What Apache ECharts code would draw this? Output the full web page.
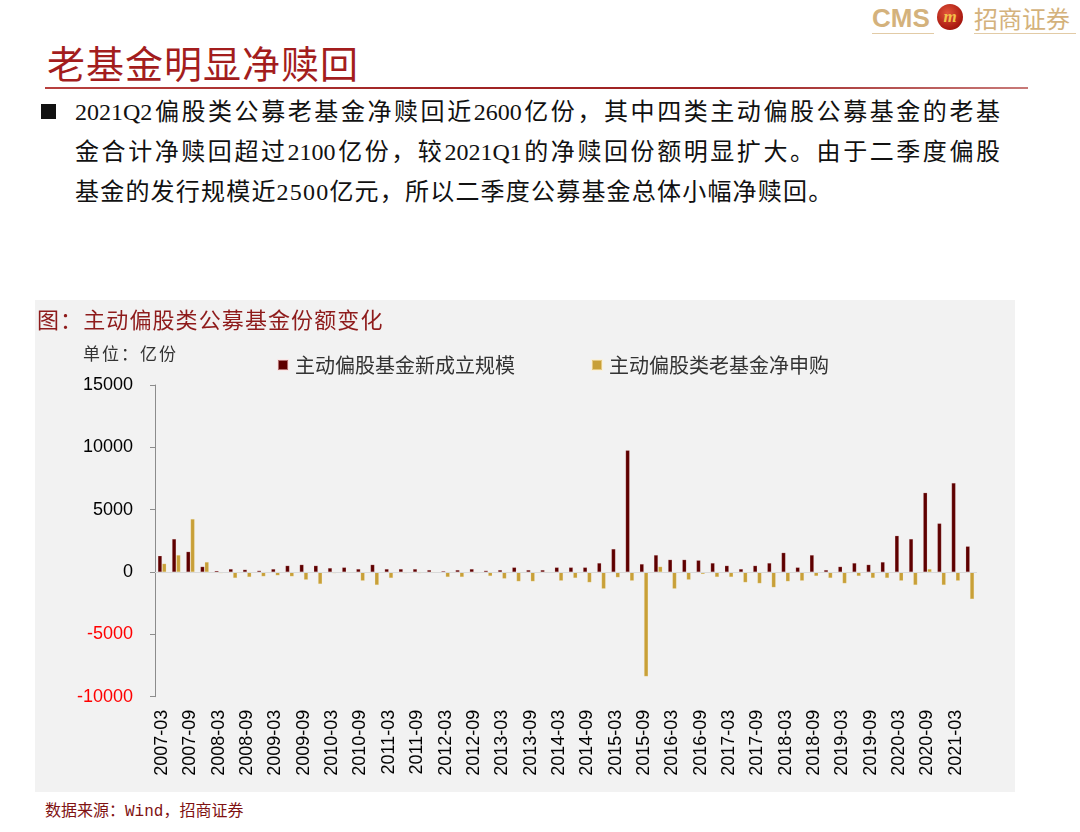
<!DOCTYPE html>
<html>
<head>
<meta charset="utf-8">
<script src="https://cdn.jsdelivr.net/npm/echarts/dist/echarts.min.js"></script>
<style>
  html, body { margin:0; padding:0; background:#fff; }
  #page { position:relative; width:1080px; height:832px; overflow:hidden; background:#fff; font-family:"Liberation Serif","Noto Sans CJK SC",serif; }
  .abs { position:absolute; white-space:nowrap; }
  .line { position:absolute; left:75px; width:925px; height:40px; line-height:40px; font-size:24px; color:#111; font-family:"Liberation Serif","Noto Sans CJK SC",serif; }
  .just { text-align:justify; text-align-last:justify; }
  #panel { position:absolute; left:35px; top:300px; width:980px; height:492px; background:#f2f2f2; }
  #chart { position:absolute; left:0; top:0; width:980px; height:492px; }
</style>
</head>
<body>
<div id="page">
  <!-- logo -->
  <div class="abs" style="left:872px; top:3px; font-family:'Liberation Sans',sans-serif; font-weight:bold; font-size:26px; color:#d4b27c; line-height:30px;">CMS</div>
  <div class="abs" style="left:937px; top:4px; width:26px; height:26px; border-radius:50%; background:radial-gradient(circle at 40% 35%, #e2553a, #a8170f 70%, #7a0d08); color:#f3c24a; font-family:'Liberation Serif',serif; font-weight:bold; font-size:17px; line-height:26px; text-align:center; font-style:italic;">m</div>
  <div class="abs" style="left:974px; top:3px; font-family:'Noto Sans CJK SC',sans-serif; font-size:24px; color:#d4b27c; line-height:30px;">招商证券</div>
  <div class="abs" style="left:872px; top:33px; width:62px; height:1px; background:#e2cba6;"></div>
  <div class="abs" style="left:974px; top:33px; width:102px; height:1px; background:#e2cba6;"></div>

  <!-- title -->
  <div class="abs" style="left:47px; top:38px; font-family:'Noto Sans CJK SC',serif; font-size:38px; line-height:48px; color:#a31d1d; letter-spacing:1px;">老基金明显净赎回</div>
  <div class="abs" style="left:45px; top:87px; width:983px; height:2px; background:linear-gradient(to right,#b8413f,#a02424 40%,#a02424 70%,#c87a78);"></div>

  <!-- paragraph -->
  <div class="abs" style="left:41px; top:104px; width:15px; height:15px; background:#111;"></div>
  <div class="line just" style="top:92px;">2021Q2偏股类公募老基金净赎回近2600亿份，其中四类主动偏股公募基金的老基</div>
  <div class="line just" style="top:132px;">金合计净赎回超过2100亿份，较2021Q1的净赎回份额明显扩大。由于二季度偏股</div>
  <div class="line" style="top:172px; letter-spacing:1.2px;">基金的发行规模近2500亿元，所以二季度公募基金总体小幅净赎回。</div>

  <!-- chart panel -->
  <div id="panel">
    <div id="chart"></div>
    <div class="abs" style="left:2px; top:4px; font-family:'Noto Sans CJK SC',sans-serif; font-size:22px; line-height:28px; color:#8e1b1b; letter-spacing:1.1px;">图：主动偏股类公募基金份额变化</div>
    <div class="abs" style="left:48px; top:41px; font-family:'Noto Sans CJK SC',sans-serif; font-size:17px; line-height:24px; color:#333; letter-spacing:2px;">单位：亿份</div>
  </div>

  <!-- footer -->
  <div class="abs" style="left:45px; top:801px; font-family:'Liberation Mono','Noto Sans CJK SC',monospace; font-size:16px; line-height:22px; color:#7f1212;">数据来源：Wind，招商证券</div>
</div>

<script>
// ---- data ----
const categories = [
  '2007-03','2007-06','2007-09','2007-12',
  '2008-03','2008-06','2008-09','2008-12',
  '2009-03','2009-06','2009-09','2009-12',
  '2010-03','2010-06','2010-09','2010-12',
  '2011-03','2011-06','2011-09','2011-12',
  '2012-03','2012-06','2012-09','2012-12',
  '2013-03','2013-06','2013-09','2013-12',
  '2014-03','2014-06','2014-09','2014-12',
  '2015-03','2015-06','2015-09','2015-12',
  '2016-03','2016-06','2016-09','2016-12',
  '2017-03','2017-06','2017-09','2017-12',
  '2018-03','2018-06','2018-09','2018-12',
  '2019-03','2019-06','2019-09','2019-12',
  '2020-03','2020-06','2020-09','2020-12',
  '2021-03','2021-06'
];
const newFundScale = [
  1300, 2650, 1630, 430,
  100, 240, 190, 110,
  240, 510, 590, 510,
  320, 370, 240, 590,
  240, 240, 240, 160,
  80, 160, 240, 110,
  160, 370, 160, 160,
  370, 370, 370, 720,
  1850, 9760, 640, 1360,
  990, 990, 940, 720,
  510, 240, 510, 720,
  1550, 370, 1360, 160,
  430, 720, 590, 800,
  2910, 2650, 6360, 3900,
  7140, 2060
];
const oldFundNetSub = [
  670, 1360, 4250, 800,
  -100, -480, -400, -350,
  -270, -350, -620, -960,
  -100, 0, -700, -1040,
  -480, -100, -100, 0,
  -400, -400, -100, -320,
  -530, -750, -750, 0,
  -700, -480, -830, -1340,
  -430, -700, -8370, 430,
  -1340, -620, -160, -400,
  -400, -830, -910, -1230,
  -750, -700, -320, -480,
  -910, -320, -480, -480,
  -700, -1040, 240, -1040,
  -700, -2170
];
const seriesNames = ['主动偏股基金新成立规模', '主动偏股类老基金净申购'];
const yTicks = { min: -10000, max: 15000, interval: 5000 };

const chart = echarts.init(document.getElementById('chart'), null, { renderer: 'canvas' });
chart.setOption({
  animation: false,
  backgroundColor: 'transparent',
  textStyle: { fontFamily: 'Liberation Sans, Noto Sans CJK SC, sans-serif' },
  legend: {
    left: 237, top: 50,
    itemWidth: 10, itemHeight: 10, itemGap: 76,
    icon: 'rect',
    textStyle: { fontSize: 20, color: '#333', fontFamily: 'Noto Sans CJK SC, sans-serif', padding: [0, 0, 0, 2] },
    data: seriesNames
  },
  grid: { left: 120, right: 38, top: 85, bottom: 95.3, containLabel: false },
  xAxis: {
    type: 'category',
    data: categories,
    axisLine: { show: false, onZero: false },
    axisTick: { show: false },
    axisLabel: { rotate: 90, interval: 1, fontSize: 18, color: '#000', margin: 13, fontFamily: 'Liberation Sans, sans-serif' }
  },
  yAxis: {
    type: 'value',
    min: yTicks.min, max: yTicks.max, interval: yTicks.interval,
    axisLine: { show: true, lineStyle: { color: '#8c8c8c', width: 1 } },
    axisTick: { show: true, length: 5, lineStyle: { color: '#8c8c8c' } },
    splitLine: { show: false },
    axisLabel: {
      fontSize: 18, margin: 22, fontFamily: 'Liberation Sans, sans-serif',
      formatter: function (v) { return String(v); },
      color: function (v) { return Number(v) < 0 ? '#ff0000' : '#000'; }
    }
  },
  series: [
    {
      name: seriesNames[0], type: 'bar', data: newFundScale,
      barWidth: 4, barGap: '8%',
      itemStyle: { color: '#5e0000', borderColor: 'rgba(255,220,220,0.5)', borderWidth: 0.4 },
      markLine: {
        silent: true, symbol: 'none', label: { show: false },
        lineStyle: { color: '#d9d9d9', width: 1, type: 'solid' },
        data: [{ yAxis: 0 }]
      },
      z: 3
    },
    {
      name: seriesNames[1], type: 'bar', data: oldFundNetSub,
      barWidth: 4,
      itemStyle: { color: '#c8a038', borderColor: 'rgba(255,240,200,0.5)', borderWidth: 0.4 },
      z: 3
    }
  ]
});
</script>
</body>
</html>
